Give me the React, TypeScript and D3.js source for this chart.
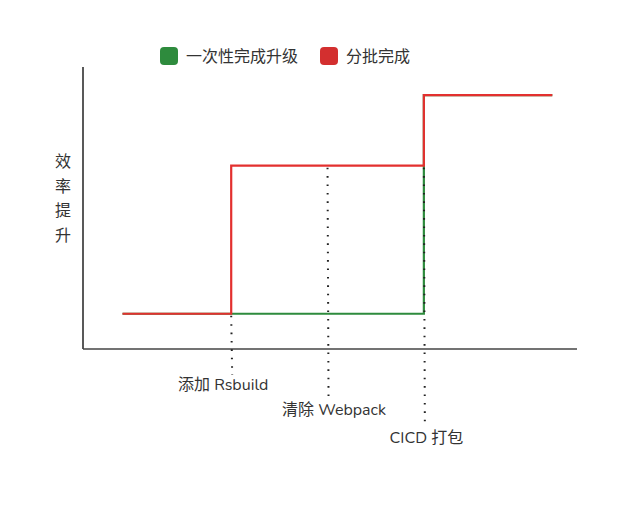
import React from "react";
import * as d3 from "d3";

const W = 640;
const H = 526;

const seriesNames = ["一次性完成升级", "分批完成"];
const seriesColors = ["#2e8b3d", "#e3302f"];
const legendColors = ["#2e8b3d", "#d32f2f"];

// step points [x, y] in chart units
const oneShotX = [8, 69, 95];
const oneShotY = [12.5, 90, 90];
const batchX = [8, 30, 69, 95];
const batchY = [12.5, 65, 90, 90];

const milestoneLabels = ["添加 Rsbuild", "清除 Webpack", "CICD 打包"];
const milestoneX = [30, 49.5, 69];
const milestoneTopY = [12.5, 65, 65];
const milestoneLabelY = [383, 408, 436];
const milestoneEndY = [375, 398, 425];
const milestoneLabelShift = [-8, 6.5, 2.5];

const yLabelChars = ["效", "率", "提", "升"];

const FONT = "Nunito, Lato, 'Noto Sans CJK SC', sans-serif";

export default function App() {
  const x = d3.scaleLinear().domain([0, 100]).range([83, 577]);
  const y = d3.scaleLinear().domain([0, 100]).range([349, 67]);

  const line = d3
    .line<[number, number]>()
    .x((d) => x(d[0]))
    .y((d) => y(d[1]))
    .curve(d3.curveStepAfter);

  const oneShot: [number, number][] = oneShotX.map((v, i) => [v, oneShotY[i]]);
  const batch: [number, number][] = batchX.map((v, i) => [v, batchY[i]]);

  return (
    <svg width={W} height={H} style={{ position: "absolute", left: 0, top: 0, background: "#fff" }}>
      {/* legend */}
      <g fontFamily={FONT} fontSize={16} fill="#333">
        <rect x={160} y={47} width={18} height={18} rx={4} fill={legendColors[0]} />
        <text x={186} y={62}>{seriesNames[0]}</text>
        <rect x={320} y={47} width={18} height={18} rx={4} fill={legendColors[1]} />
        <text x={346} y={62}>{seriesNames[1]}</text>
      </g>

      {/* axes */}
      <line x1={x(0)} x2={x(0)} y1={y(100)} y2={y(0)} stroke="#222" strokeWidth={1.5} />
      <line x1={x(0)} x2={x(100)} y1={y(0)} y2={y(0)} stroke="#444" strokeWidth={1.5} />

      {/* y label */}
      <g fontFamily={FONT} fontSize={16} fill="#333" textAnchor="middle">
        {yLabelChars.map((c, i) => (
          <text key={c} x={63} y={167 + i * 24.7}>
            {c}
          </text>
        ))}
      </g>

      {/* series */}
      <path d={line(oneShot) || ""} fill="none" stroke={seriesColors[0]} strokeWidth={2.2} />
      <path d={line(batch) || ""} fill="none" stroke={seriesColors[1]} strokeWidth={2.2} />

      {/* milestones */}
      {milestoneLabels.map((lab, i) => (
        <g key={lab}>
          <line
            x1={x(milestoneX[i])}
            x2={x(milestoneX[i]) + 1}
            y1={y(milestoneTopY[i]) + 2}
            y2={milestoneEndY[i]}
            stroke="#222"
            strokeWidth={2}
            strokeDasharray="1.6 6.8"
          />
          <text
            x={x(milestoneX[i]) + milestoneLabelShift[i]}
            y={milestoneLabelY[i] + 7}
            textAnchor="middle"
            fontFamily={FONT}
            fontSize={16}
            fill="#333"
          >
            {lab}
          </text>
        </g>
      ))}
    </svg>
  );
}
